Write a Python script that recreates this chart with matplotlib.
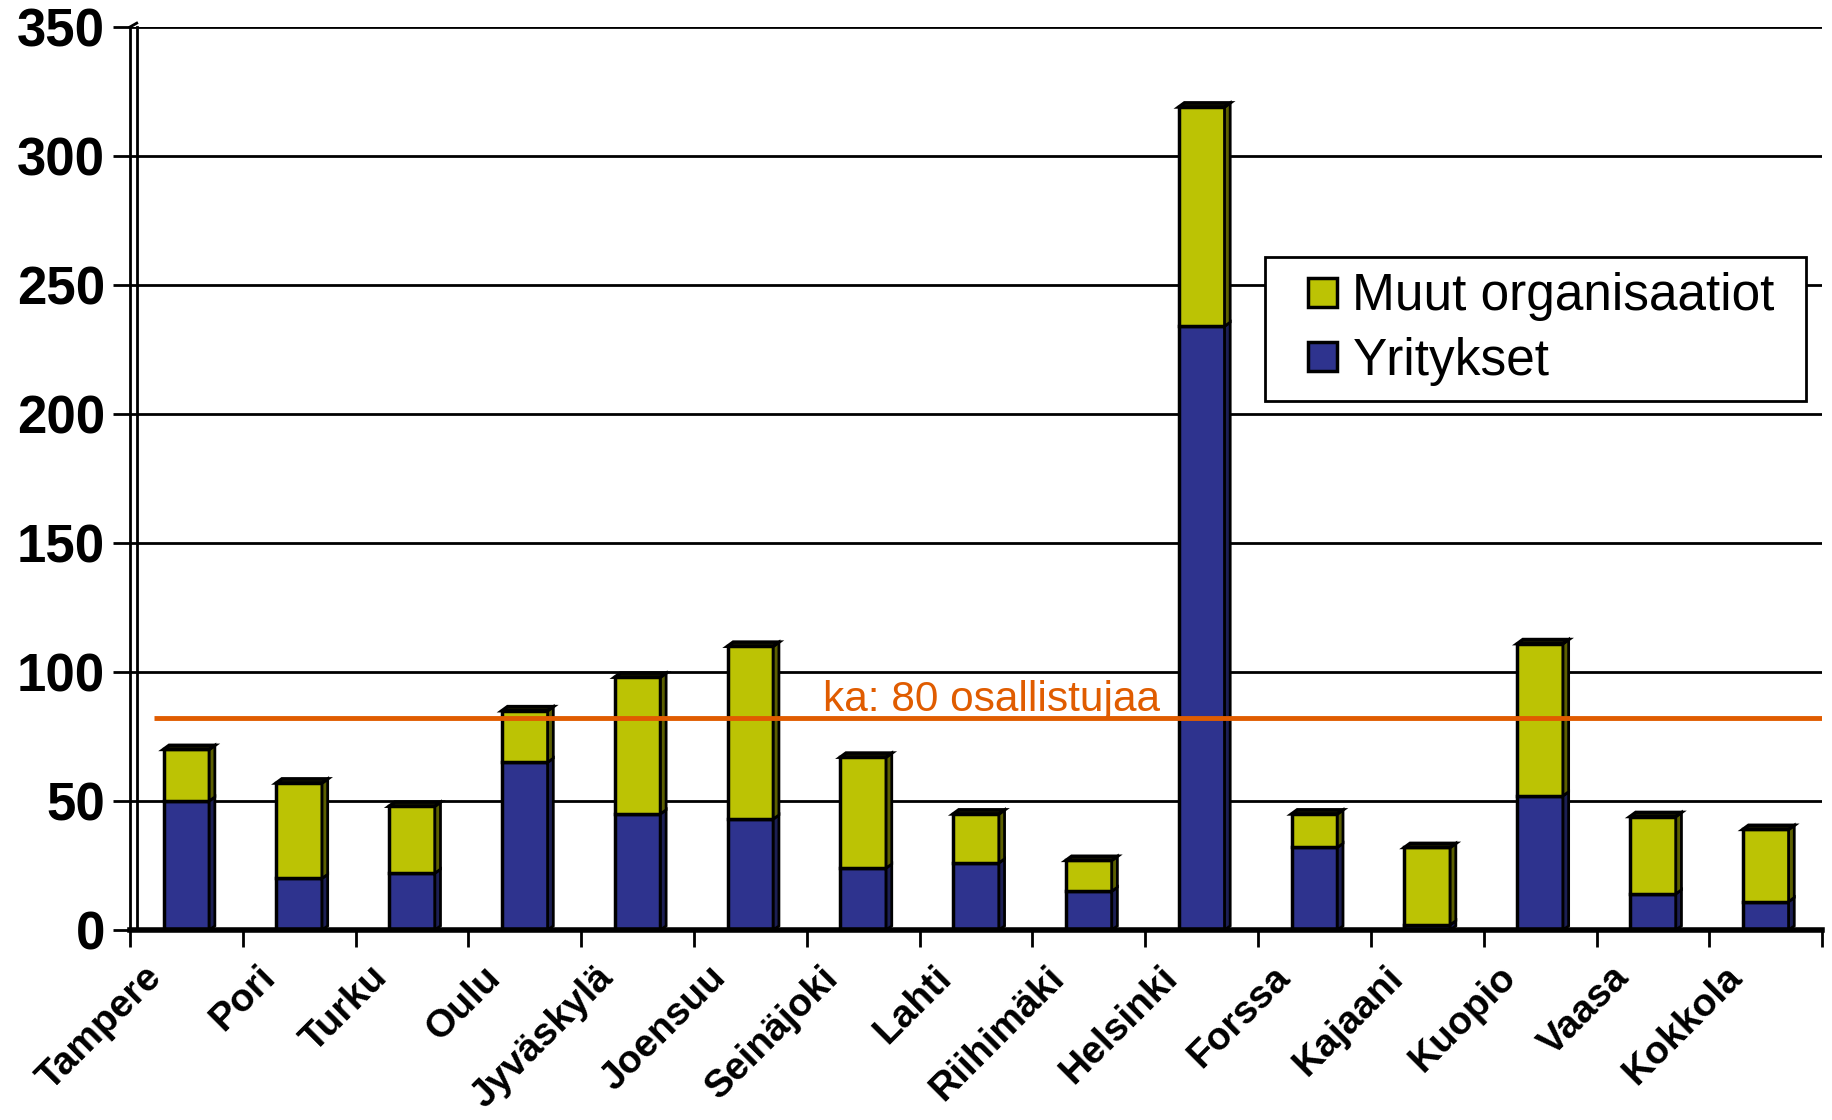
import numpy as np
import matplotlib.pyplot as plt
from matplotlib.patches import Polygon, Patch, Rectangle
from matplotlib.legend_handler import HandlerPatch
from matplotlib.transforms import ScaledTranslation

plt.rcParams['font.family'] = ['Liberation Sans', 'DejaVu Sans']

# data
cities = ['Tampere', 'Pori', 'Turku', 'Oulu', 'Jyväskylä', 'Joensuu', 'Seinäjoki',
          'Lahti', 'Riihimäki', 'Helsinki', 'Forssa', 'Kajaani', 'Kuopio', 'Vaasa', 'Kokkola']
yritykset = [50, 20, 22, 65, 45, 43, 24, 26, 15, 234, 32, 2, 52, 14, 11]
muut = [20, 37, 26, 20, 53, 67, 43, 19, 12, 85, 13, 30, 59, 30, 28]
avg_value = 82
avg_label = 'ka: 80 osallistujaa'

blue = '#2E338E'
olive = '#BCC304'
blue_side = '#1C1F55'
olive_side = '#5C6000'
orange = '#E05C00'

fig = plt.figure(figsize=(18.33, 11.2), dpi=100)
ax = fig.add_axes([0.0709, 0.1696, 0.9232, 0.8063])

x = np.arange(len(cities))
w = 0.405
dx, dy = 0.05, 1.6  # fake 3D depth

ax.bar(x, yritykset, w, color=blue, edgecolor='black', linewidth=2.5, zorder=3)
ax.bar(x, muut, w, bottom=yritykset, color=olive, edgecolor='black', linewidth=2.5, zorder=3)

# side and top faces
for xi, b, m in zip(x, yritykset, muut):
    r = xi + w / 2
    l = xi - w / 2
    for lo, hi, c in [(0, b, blue_side), (b, b + m, olive_side)]:
        ax.add_patch(Polygon([(r, lo), (r + dx, lo + dy), (r + dx, hi + dy), (r, hi)],
                             closed=True, facecolor=c, edgecolor='black', linewidth=2, zorder=3))
    t = b + m
    ax.add_patch(Polygon([(l, t), (l + dx, t + dy), (r + dx, t + dy), (r, t)],
                         closed=True, facecolor='#1a1a00', edgecolor='black', linewidth=2.5, zorder=3))

# average line
ax.plot([-0.29, 14.5], [avg_value, avg_value], color=orange, linewidth=3.5, zorder=5,
        solid_capstyle='butt')
ax.text(5.64, avg_value + 3, avg_label, color=orange, fontsize=30.5, zorder=6)

ax.set_xlim(-0.5, 14.5)
ax.set_ylim(0, 350)

# gridlines on back wall
ax.set_yticks(range(0, 351, 50))
ax.yaxis.grid(True, color='black', linewidth=2)
ax.set_axisbelow(True)
ax.tick_params(axis='y', length=12, width=2, labelsize=38, pad=6)
for lab in ax.get_yticklabels():
    lab.set_fontweight('bold')

# category boundaries as major ticks, names as minor
ax.set_xticks(np.arange(-0.5, 15, 1))
ax.set_xticklabels([])
ax.tick_params(axis='x', which='major', length=12, width=2, direction='out')
ax.set_xticks(x, minor=True)
ax.set_xticklabels(cities, minor=True, rotation=45, ha='right', va='top',
                   fontsize=28, fontweight='bold')
ax.tick_params(axis='x', which='minor', length=0, pad=21)
shift = ScaledTranslation(-17 / 100, 0, fig.dpi_scale_trans)
for lab in ax.get_xticklabels(minor=True):
    lab.set_transform(lab.get_transform() + shift)

for s in ['top', 'right']:
    ax.spines[s].set_visible(False)
ax.spines['left'].set_linewidth(2)
ax.spines['bottom'].set_linewidth(4)
ax.spines['bottom'].set_zorder(4)

# back wall edge line
ax.plot([-0.5 + 0.06, -0.5 + 0.06], [0, 350], color='black', linewidth=2, clip_on=False, zorder=2)
ax.plot([-0.5, -0.5 + 0.06], [350, 351.5], color='black', linewidth=2, clip_on=False, zorder=2)


def square(legend, orig_handle, xdescent, ydescent, width, height, fontsize):
    s = 0.57 * fontsize
    return Rectangle((-xdescent + width - s, -ydescent + (height - s) / 2), s, s)


handles = [Patch(facecolor=olive, edgecolor='black', linewidth=2.5),
           Patch(facecolor=blue, edgecolor='black', linewidth=2.5)]
leg_box = (1265 / 1833, 1 - 257 / 1120, (1806 - 1265) / 1833, 0.0)
leg = ax.legend(handles, ['Muut organisaatiot', 'Yritykset'], loc='upper left',
                bbox_to_anchor=leg_box, bbox_transform=fig.transFigure, mode='expand',
                fontsize=37, frameon=True, fancybox=False, framealpha=1, edgecolor='black',
                handlelength=1.1, handleheight=0.7, handletextpad=0.3, labelspacing=0.3,
                borderpad=0.3, borderaxespad=0,
                handler_map={Patch: HandlerPatch(patch_func=square)})
leg.get_frame().set_linewidth(2)
leg.set_zorder(7)

fig.savefig('out.png', dpi=100)
